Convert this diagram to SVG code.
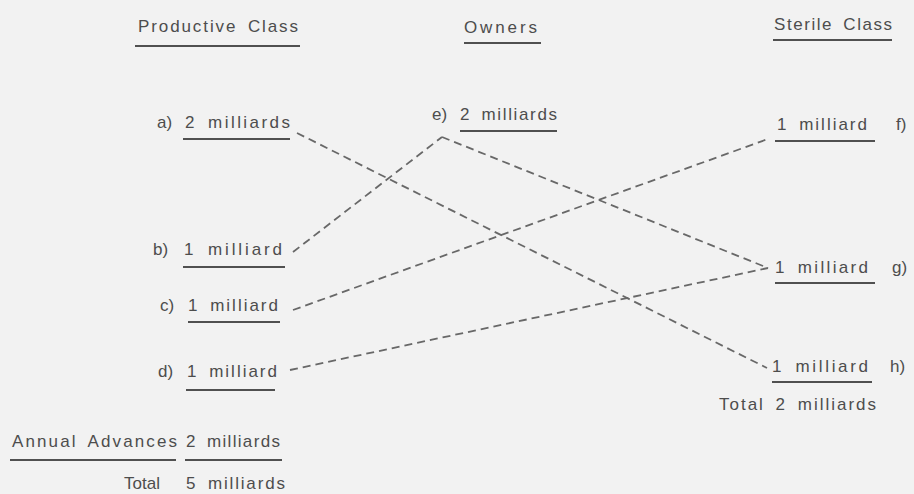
<svg xmlns="http://www.w3.org/2000/svg" width="914" height="494" viewBox="0 0 914 494">
<style>
text{font-family:"Liberation Sans","DejaVu Sans",sans-serif;font-size:17px;fill:#4d4d4d;word-spacing:4px}
.u{stroke:#505050;stroke-width:2;fill:none}
.c{stroke:#686868;stroke-width:1.8;stroke-dasharray:8 5;fill:none}
</style>
<rect width="914" height="494" fill="#f2f2f2"/>
<g id="headers">
<g id="h-productive"><text x="138" y="32" textLength="160" lengthAdjust="spacing">Productive Class</text><line class="u" x1="135" y1="46" x2="300" y2="46"/></g>
<g id="h-owners"><text x="464" y="33" textLength="73" lengthAdjust="spacing">Owners</text><line class="u" x1="464" y1="43" x2="541" y2="43"/></g>
<g id="h-sterile"><text x="774" y="30" textLength="118" lengthAdjust="spacing">Sterile Class</text><line class="u" x1="773" y1="40" x2="892" y2="40"/></g>
</g>
<g id="connectors">
<line class="c" x1="297" y1="133" x2="767" y2="368"/>
<line class="c" x1="293" y1="252" x2="442" y2="137"/>
<line class="c" x1="442" y1="137" x2="768" y2="268"/>
<line class="c" x1="293" y1="310" x2="768" y2="139"/>
<line class="c" x1="290" y1="370" x2="768" y2="268"/>
</g>
<g id="node-a"><text x="157" y="128">a)</text><text x="185" y="128" textLength="105" lengthAdjust="spacing">2 milliards</text><line class="u" x1="183" y1="139" x2="290" y2="139"/></g>
<g id="node-b"><text x="153" y="255">b)</text><text x="184" y="255" textLength="98" lengthAdjust="spacing">1 milliard</text><line class="u" x1="183" y1="267" x2="285" y2="267"/></g>
<g id="node-c"><text x="160" y="311">c)</text><text x="188" y="311" textLength="90" lengthAdjust="spacing">1 milliard</text><line class="u" x1="188" y1="322" x2="280" y2="322"/></g>
<g id="node-d"><text x="158" y="377">d)</text><text x="187" y="377" textLength="90" lengthAdjust="spacing">1 milliard</text><line class="u" x1="186" y1="390" x2="275" y2="390"/></g>
<g id="node-e"><text x="432" y="120">e)</text><text x="460" y="120" textLength="97" lengthAdjust="spacing">2 milliards</text><line class="u" x1="460" y1="131" x2="557" y2="131"/></g>
<g id="node-f"><text x="777" y="130" textLength="90" lengthAdjust="spacing">1 milliard</text><text x="896" y="130">f)</text><line class="u" x1="775" y1="141" x2="875" y2="141"/></g>
<g id="node-g"><text x="775" y="273" textLength="93" lengthAdjust="spacing">1 milliard</text><text x="892" y="273">g)</text><line class="u" x1="775" y1="283" x2="875" y2="283"/></g>
<g id="node-h"><text x="772" y="372" textLength="96" lengthAdjust="spacing">1 milliard</text><text x="890" y="372">h)</text><line class="u" x1="772" y1="382" x2="872" y2="382"/></g>
<g id="total-sterile"><text x="719" y="410" textLength="157" lengthAdjust="spacing">Total 2 milliards</text></g>
<g id="annual-advances"><text x="12" y="447" textLength="165" lengthAdjust="spacing">Annual Advances</text><text x="186" y="447" textLength="94" lengthAdjust="spacing">2 milliards</text><line class="u" x1="10" y1="460" x2="176" y2="460"/><line class="u" x1="185" y1="460" x2="282" y2="460"/></g>
<g id="total-productive"><text x="124" y="489">Total</text><text x="186" y="489" textLength="99" lengthAdjust="spacing">5 milliards</text></g>
</svg>
